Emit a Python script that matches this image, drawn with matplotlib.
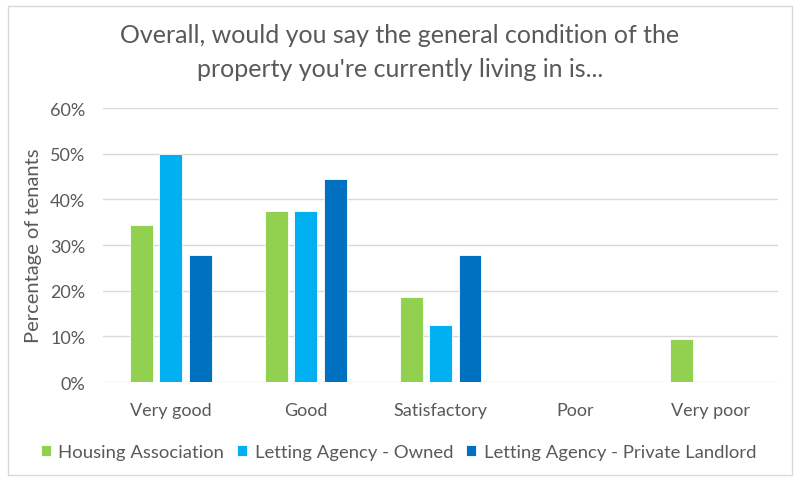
import numpy as np
import matplotlib
matplotlib.use("Agg")
import matplotlib.pyplot as plt
from matplotlib.patches import Rectangle
from matplotlib.ticker import FuncFormatter

categories = ["Very good", "Good", "Satisfactory", "Poor", "Very poor"]
series_names = ["Housing Association", "Letting Agency - Owned", "Letting Agency - Private Landlord"]
housing_assoc = [34.4, 37.5, 18.75, 0, 9.4]
agency_owned = [50.0, 37.5, 12.5, 0, 0]
agency_private = [27.8, 44.4, 27.8, 0, 0]
colors = ["#92D050", "#00B0F0", "#0070C0"]

plt.rcParams['font.family'] = ['Lato', 'DejaVu Sans']
text_col = "#595959"

fig = plt.figure(figsize=(8, 4.85), dpi=100)
ax = fig.add_axes([0.129, 0.21, 0.8435, 0.565])

# outer chart border
fig.patches.append(Rectangle((0.01, 0.018), 0.98, 0.967, transform=fig.transFigure,
                             fill=False, edgecolor="#D9D9D9", linewidth=1))

x = np.arange(len(categories))
width = 0.17
step = 0.218
for i, (vals, name) in enumerate(zip([housing_assoc, agency_owned, agency_private], series_names)):
    ax.bar(x + (i - 1) * step, vals, width, color=colors[i], label=name,
           edgecolor="white", linewidth=0.6, zorder=3)

ax.set_xlim(-0.5, len(categories) - 0.5)
ax.set_ylim(0, 60)
ax.set_yticks(range(0, 61, 10))
ax.yaxis.set_major_formatter(FuncFormatter(lambda v, p: f"{v:.0f}%"))
ax.set_xticks(x)
ax.set_xticklabels(categories)
ax.grid(axis="y", color="#D9D9D9", linewidth=1, zorder=0)
for s in ax.spines.values():
    s.set_visible(False)
ax.tick_params(length=0, labelsize=13, colors=text_col)
ax.tick_params(axis="y", pad=13)
ax.tick_params(axis="x", pad=14)

ax.set_ylabel("Percentage of tenants", fontsize=14.5, color=text_col, labelpad=6)

fig.text(0.5, 0.892, "Overall, would you say the general condition of the\nproperty you're currently living in is...",
         ha="center", va="center", fontsize=18, color=text_col, linespacing=1.6)

ax.legend(loc="center", bbox_to_anchor=(0.498, 0.0667), bbox_transform=fig.transFigure,
          ncol=3, frameon=False, fontsize=13.3, labelcolor=text_col,
          handlelength=0.55, handleheight=0.55, handletextpad=0.4, columnspacing=0.7)

fig.savefig("out.png", dpi=100)
